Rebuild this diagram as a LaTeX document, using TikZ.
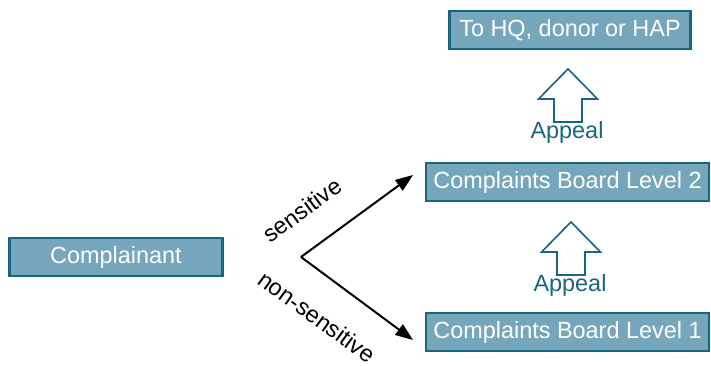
\documentclass[tikz,border=0pt]{standalone}
\usepackage{fontspec}
\setmainfont{Liberation Sans}
\usetikzlibrary{calc}
\usetikzlibrary{arrows.meta}
\usepackage{xcolor}

\definecolor{boxfill}{HTML}{76A6BC}
\definecolor{boxline}{HTML}{1A6580}

\tikzset{
  board/.style={draw=boxline,fill=boxfill,line width=2pt,inner sep=0pt,
    minimum height=38*0.03cm,text=white,font=\fontsize{20}{24}\selectfont},
  hollow/.style={draw=boxline,line width=1.4pt,line join=miter},
  appeal/.style={text=boxline,font=\fontsize{20}{24}\selectfont},
  branch/.style={black,line width=1.7pt,-{Triangle[length=15pt,width=11pt]}},
  branchlabel/.style={font=\fontsize{20}{24}\selectfont,inner sep=0pt}
}

\begin{document}
\begin{tikzpicture}[x=0.03cm,y=0.03cm]

\useasboundingbox (0,0) rectangle (711,365);

\newcommand{\appealarrow}[3]{
  \draw[hollow] (#1,#2) -- ++(29.5,-30) -- ++(-15.5,0) -- ++(0,-23)
    -- ++(-28,0) -- ++(0,23) -- ++(-15.5,0) -- cycle;
  \node[appeal] (#3) at (#1-1,#2-63) {Appeal};
}

\node[board,minimum width=241*0.03cm] (hq) at (570,335) {To HQ, donor or HAP};
\node[board,minimum width=213*0.03cm] (complainant) at (116,108) {Complainant};
\node[board,minimum width=283*0.03cm] (cbtwo) at (567.5,183) {Complaints Board Level 2};
\node[board,minimum width=283*0.03cm] (cbone) at (567.5,33) {Complaints Board Level 1};

%\appealarrow{x}{y}{name}
\appealarrow{568}{296}{appealtwo}
\appealarrow{571}{143}{appealone}

\coordinate (fork) at (301,108);
\coordinate (sensend) at (413,190);
\coordinate (nonsensend) at (413,25);

\draw[branch] (fork) -- (sensend);
\draw[branch] (fork) -- (nonsensend);

\node[branchlabel,rotate=36] (sens) at (302,155) {sensitive};
\node[branchlabel,rotate=-36] (nonsens) at (317,48) {non-sensitive};

\end{tikzpicture}
\end{document}
